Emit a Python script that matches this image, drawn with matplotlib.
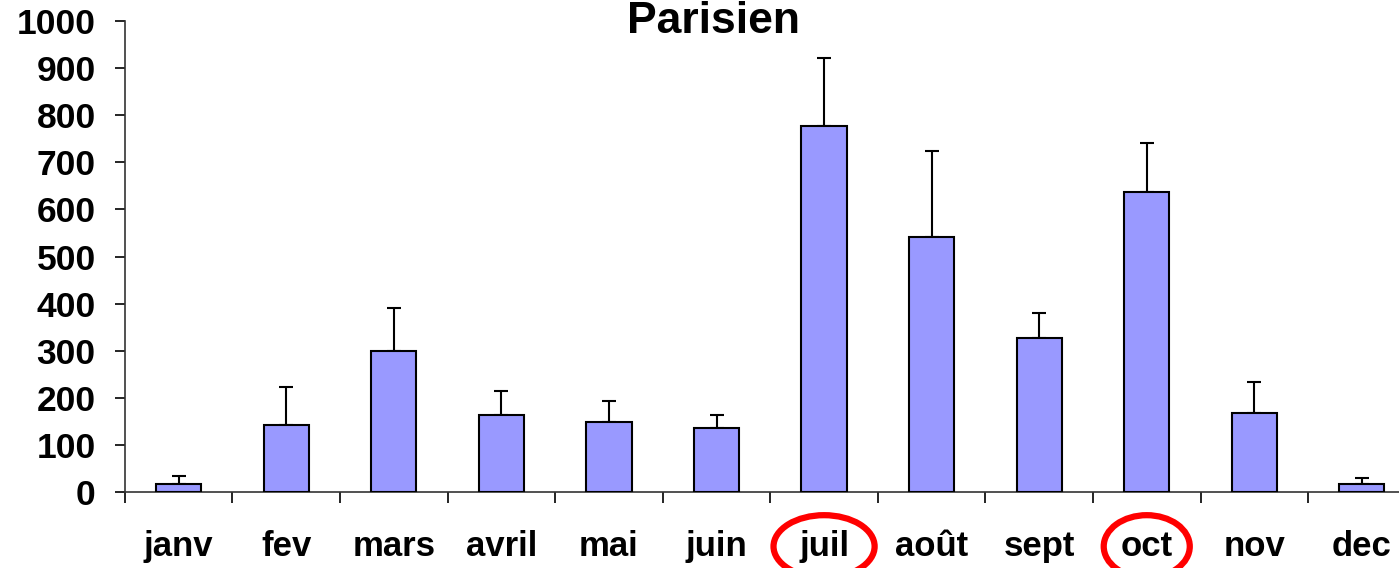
import matplotlib
matplotlib.use("Agg")
import matplotlib.pyplot as plt
from matplotlib.patches import Ellipse
from matplotlib.transforms import blended_transform_factory

# monthly means and upper end of the error bars
months = ["janv", "fev", "mars", "avril", "mai", "juin",
          "juil", "août", "sept", "oct", "nov", "dec"]
means = [16, 142, 299, 163, 149, 136, 777, 541, 327, 637, 168, 16]
upper = [35, 223, 391, 214, 193, 163, 921, 724, 380, 741, 234, 30]
errors = [u - m for u, m in zip(upper, means)]
highlighted = ["juil", "oct"]

plt.rcParams["font.family"] = ["Liberation Sans", "DejaVu Sans"]
plt.rcParams["font.weight"] = "bold"

fig = plt.figure(figsize=(13.99, 5.68), dpi=100)
ax = fig.add_axes([0.0893, 0.1338, 1.0119 - 0.0893, 0.8292])

x = range(len(months))
ax.bar(x, means, width=0.42, color="#9999FF", edgecolor="black", linewidth=1.5, zorder=3)
ax.errorbar(x, means, yerr=[[0] * len(errors), errors], fmt="none",
            ecolor="black", elinewidth=1.5, capsize=5, capthick=1.5, zorder=2)

ax.set_xlim(-0.5, len(months) - 0.5)
ax.set_ylim(0, 1000)
ax.set_yticks(range(0, 1001, 100))
ax.set_xticks([i - 0.5 for i in range(len(months))])
ax.set_xticklabels([])
ax.set_xticks(list(x), minor=True)
ax.set_xticklabels(months, minor=True, fontsize=25, fontweight="bold")
ax.tick_params(axis="x", which="minor", length=0, pad=27)
ax.tick_params(axis="x", which="major", direction="out", length=8, width=1.2)
ax.tick_params(axis="y", direction="out", length=7, width=1.2, pad=14, labelsize=25.5)
for lbl in ax.get_yticklabels():
    lbl.set_fontweight("bold")

for side in ["top", "right"]:
    ax.spines[side].set_visible(False)
ax.spines["left"].set_color("#333333")
ax.spines["bottom"].set_color("#333333")
ax.spines["left"].set_linewidth(1.2)
ax.spines["bottom"].set_linewidth(1.2)

fig.text(713 / 1399, 1 - 33 / 568, "Parisien", ha="center", va="baseline",
         fontsize=32, fontweight="bold")

# red rings around the highlighted months
trans = blended_transform_factory(ax.transData, fig.transFigure)
ring_w = {"juil": 0.94, "oct": 0.80}
for m in highlighted:
    i = months.index(m)
    ax.add_patch(Ellipse((i, 0.038), ring_w[m], 0.11, transform=trans,
                         fill=False, edgecolor="red", linewidth=4.5, clip_on=False))

fig.savefig("out.png", dpi=100)
